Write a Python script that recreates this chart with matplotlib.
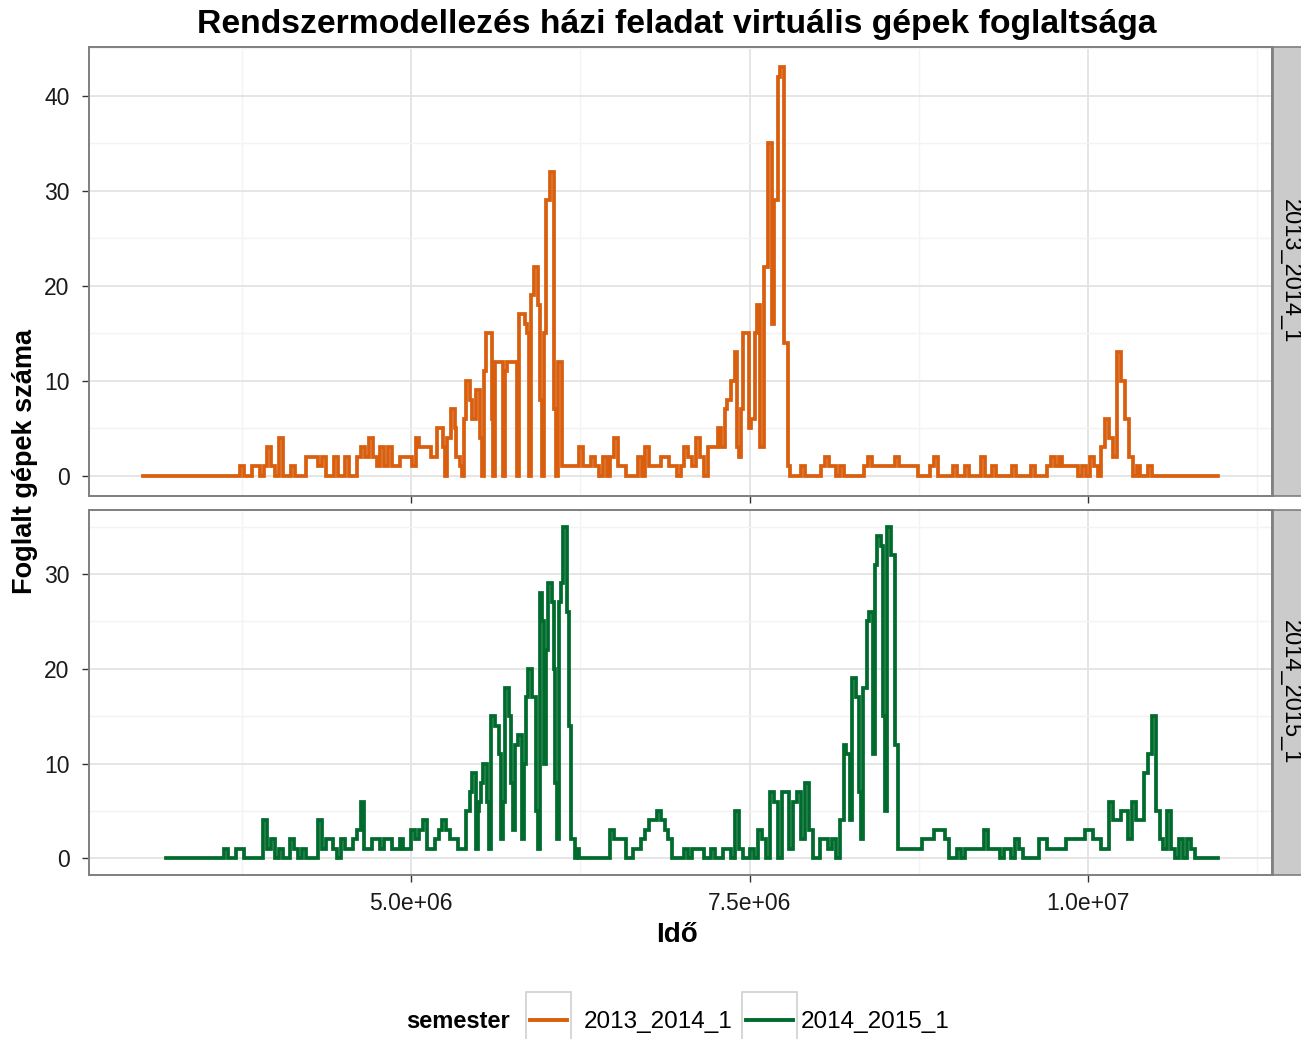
import numpy as np
import matplotlib
matplotlib.use('Agg')
from matplotlib import pyplot as plt
from matplotlib.patches import Rectangle
from matplotlib.lines import Line2D

plt.rcParams['font.family'] = ['Liberation Sans', 'DejaVu Sans']

# foglalt gepek szama; alapbol 8 orankent, a csucsidoszakokban 4 orankent (ido masodpercben)
H8 = 28800
H4 = 14400
start_2013 = 3.015e6
start_2014 = 3.185e6

# 2013_2014_1
busy_2013_a = [
    0, 0, 0, 0, 0, 0, 0, 0, 0, 0,
    0, 0, 0, 0, 0, 0, 0, 0, 0, 0,
    0, 0, 0, 0, 0, 1, 0, 0, 1, 1,
    0, 1, 3, 1, 0, 4, 0, 0, 1, 0,
    0, 0, 2, 2, 2, 1, 2, 0, 0, 2,
    0, 0, 2, 0, 0, 2, 3, 2, 4, 2,
    1, 3, 1, 3, 1, 1, 2, 2, 2, 1,
]
busy_2013_b = [
    4, 4, 3, 3, 3, 3, 3, 3, 2, 2,
    2, 5, 5, 5, 3, 0, 4, 4, 7, 7,
    5, 2, 2, 1, 0, 6, 10, 10, 8, 6,
    6, 9, 9, 4, 0, 11, 15, 15, 15, 6,
    0, 12, 12, 12, 12, 0, 11, 12, 12, 12,
    12, 12, 0, 17, 17, 17, 16, 15, 0, 19,
    19, 22, 22, 18, 8, 0, 15, 29, 29, 32,
    32, 7, 0, 12, 12, 1, 1, 1,
]
busy_2013_c = [
    1,
    1, 1, 3, 1, 1, 2, 1, 0, 2, 0,
    2, 4, 1, 1, 0, 0, 0, 2, 0, 3,
    1, 1, 1, 2, 2, 1, 1, 0, 1, 3,
    2, 1, 4, 2, 0, 3, 3,
]
busy_2013_d = [
    3, 5, 5, 3, 3, 7, 8, 8, 10, 10,
    13, 3, 2, 7, 15, 15, 15, 5, 6, 6,
    15, 18, 18, 3, 3, 22, 22, 35, 35, 16,
    29, 29, 42, 43, 43, 14, 14, 1,
]
busy_2013_e = [
    0, 0, 0, 1,
    0, 0, 0, 0, 1, 2, 1, 1, 0, 1,
    0, 0, 0, 0, 0, 1, 2, 1, 1, 1,
    1, 1, 1, 2, 1, 1, 1, 1, 1, 0,
    0, 0, 1, 2, 0, 0, 0, 0, 1, 0,
    0, 1, 0, 0, 0, 2, 0, 0, 1, 0,
    0, 0, 0, 1, 0, 0, 0, 0, 1, 0,
    0, 0, 1, 2, 1, 2, 1, 1, 1, 1,
    0, 1, 0, 2, 1, 0, 3, 6, 4, 2,
    13, 10, 6, 2, 0, 1, 0, 0, 1, 0,
    0, 0, 0, 0, 0, 0, 0, 0, 0, 0,
    0, 0, 0, 0, 0, 0,
]

# 2014_2015_1
busy_2014_a = [
    0, 0, 0, 0, 0, 0, 0, 0, 0, 0,
    0, 0, 0, 0, 0, 1, 0, 0, 1, 1,
    0, 0, 0, 0, 0, 4, 1, 2, 0, 1,
    0, 0, 2, 1, 0, 1, 0, 0, 0, 4,
    1, 2, 2, 1, 0, 2, 1, 1, 2, 3,
    6, 1, 1, 2, 2, 1, 2, 2, 1, 1,
    2, 1, 1, 3, 2, 3, 4, 1, 1, 2,
    3, 4, 3, 2, 2, 1,
]
busy_2014_b = [
    1, 1, 5, 5, 7, 9, 9, 1, 5, 6,
    8, 10, 10, 6, 1, 15, 15, 14, 14, 11,
    2, 6, 18, 18, 15, 8, 3, 12, 12, 13,
    13, 2, 10, 17, 20, 20, 17, 17, 5, 1,
    28, 25, 10, 22, 29, 29, 27, 20, 8, 2,
    27, 29, 35, 35, 26, 14, 2, 2, 0, 1,
]
busy_2014_c = [
    0, 0, 0, 0, 0, 0, 0, 0,
    3, 2, 2, 2, 0, 0, 1, 1, 2, 3,
    4, 4, 5, 4, 3, 2, 0, 0, 0, 1,
    0, 1, 1, 1, 0, 0, 1, 0, 0, 1,
    1, 0, 5, 1, 0, 0, 1, 0, 3, 2,
    0, 7, 6, 0, 7, 7, 1, 6, 7, 2,
    8, 3, 0, 0, 2, 2, 1, 2, 0,
]
busy_2014_d = [
    4, 4, 12, 11, 11, 4, 19, 19, 17, 17,
    7, 2, 18, 18, 25, 26, 26, 11, 31, 34,
    34, 33, 15, 5, 35, 35, 32, 32, 12, 12,
    1, 1,
]
busy_2014_e = [
    1, 1, 1, 1, 1,
    2, 2, 2, 3, 3, 3, 2, 0, 0, 1,
    0, 1, 1, 1, 1, 1, 3, 1, 1, 1,
    0, 1, 1, 0, 2, 1, 0, 0, 0, 0,
    2, 2, 1, 1, 1, 1, 1, 2, 2, 2,
    2, 2, 3, 3, 2, 2, 1, 1, 6, 4,
    4, 5, 5, 2, 6, 4, 4, 9, 11, 15,
    5, 2, 1, 5, 1, 0, 2, 0, 2, 1,
    0, 0, 0, 0, 0, 0,
]

semesters = ['2013_2014_1', '2014_2015_1']
colors = ['#D95F0E', '#006B2D']
x_ticks = [5.0e6, 7.5e6, 1.0e7]
x_labels = ['5.0e+06', '7.5e+06', '1.0e+07']


def build(start, segments):
    t, y = [], []
    cur = start
    for step, vals in segments:
        for v in vals:
            t.append(cur)
            y.append(v)
            cur += step
    t.append(cur)
    y.append(y[-1])
    return np.array(t), np.array(y)


series = [
    build(start_2013, [(H8, busy_2013_a), (H4, busy_2013_b), (H8, busy_2013_c),
                       (H4, busy_2013_d), (H8, busy_2013_e)]),
    build(start_2014, [(H8, busy_2014_a), (H4, busy_2014_b), (H8, busy_2014_c),
                       (H4, busy_2014_d), (H8, busy_2014_e)]),
]

W, H = 1301, 1039
fig = plt.figure(figsize=(W / 100, H / 100), dpi=100)

def fx(px):
    return px / W

def fy(py):
    return 1 - py / H

panels = [
    (47, 496, [0, 10, 20, 30, 40]),
    (510, 875, [0, 10, 20, 30]),
]
for i, (top, bottom, yt) in enumerate(panels):
    ax = fig.add_axes([fx(89), fy(bottom), fx(1272) - fx(89), fy(top) - fy(bottom)])
    t, vals = series[i]
    ax.step(t, vals, where='post', color=colors[i], lw=2.7, solid_joinstyle='miter')
    ymax = vals.max()
    pad = ymax * 0.05
    ax.set_ylim(-pad, ymax + pad)
    ax.set_xlim(2.618e6, 11.36e6)
    ax.set_yticks(yt)
    ax.set_yticks([v + 5 for v in yt], minor=True)
    ax.set_xticks(x_ticks)
    ax.set_xticks([3.75e6, 6.25e6, 8.75e6, 11.25e6], minor=True)
    ax.grid(which='major', color='#E3E3E3', lw=1.3)
    ax.grid(which='minor', color='#F3F3F3', lw=1.0)
    ax.set_axisbelow(True)
    for s in ax.spines.values():
        s.set_color('#7F7F7F')
        s.set_linewidth(1.4)
    ax.tick_params(which='major', length=5, width=1.0, color='#333333',
                   labelsize=16.5, labelcolor='#1A1A1A')
    ax.tick_params(axis='y', pad=9)
    ax.tick_params(axis='x', pad=7)
    ax.tick_params(which='minor', length=0)
    if i == 0:
        ax.set_xticklabels([])
    else:
        ax.set_xticklabels(x_labels)
    # facet strip
    sax = fig.add_axes([fx(1273), fy(bottom), 0.03, fy(top) - fy(bottom)])
    sax.set_facecolor('#CBCBCB')
    sax.set_xticks([])
    sax.set_yticks([])
    for s in sax.spines.values():
        s.set_color('#7F7F7F')
        s.set_linewidth(1.2)
    sax.text(fx(1290 - 1273) / 0.03, 0.5, semesters[i], rotation=-90,
             ha='center', va='center', fontsize=17, transform=sax.transAxes)

fig.text(fx(677), fy(25), 'Rendszermodellezés házi feladat virtuális gépek foglaltsága',
         ha='center', va='center', fontsize=24.3, fontweight='bold')
fig.text(fx(25), fy(462), 'Foglalt gépek száma', rotation=90,
         ha='center', va='center', fontsize=19.5, fontweight='bold')
fig.text(fx(677), fy(935), 'Idő', ha='center', va='center', fontsize=20, fontweight='bold')

# legend
fig.text(fx(510), fy(1022), 'semester', ha='right', va='center', fontsize=17, fontweight='bold')
key_left = [526, 742]
key_right = [571, 797]
label_x = [584, 801]
for i, name in enumerate(semesters):
    fig.patches.append(Rectangle((fx(key_left[i]), fy(1045)), fx(key_right[i]) - fx(key_left[i]),
                                 fy(992) - fy(1045), transform=fig.transFigure,
                                 facecolor='white', edgecolor='#CFCFCF', lw=1.2))
    fig.lines.append(Line2D([fx(key_left[i] + 4), fx(key_right[i] - 4)], [fy(1020), fy(1020)],
                            transform=fig.transFigure, color=colors[i], lw=2.8))
    fig.text(fx(label_x[i]), fy(1022), name, ha='left', va='center', fontsize=17.5)

plt.savefig('out.png', dpi=100)
